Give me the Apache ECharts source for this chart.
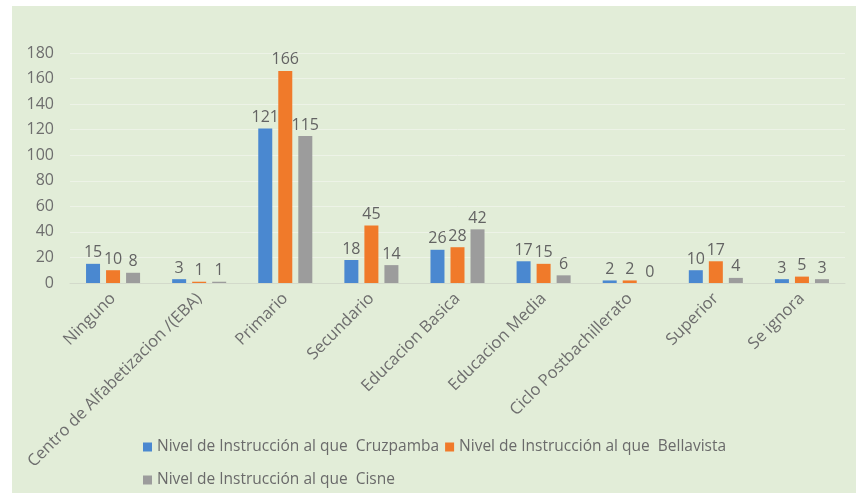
<!DOCTYPE html>
<html lang="es">
  <head>
    <meta charset="UTF-8" />
    <title>Nivel de Instrucción</title>
    <script src="https://cdn.jsdelivr.net/npm/echarts@6/dist/echarts.min.js"></script>
    <style>
      body { margin: 0; background: #ffffff; }
      #frame { position: relative; width: 856px; height: 493px; }
      #chart { position: absolute; left: 12px; top: 6px; width: 844px; height: 487px; }
    </style>
  </head>
  <body>
    <div id="frame"><div id="chart"></div></div>

    <script type="text/javascript">
      // categories and values
      const categories = [
        "Ninguno",
        "Centro de Alfabetizacion /(EBA)",
        "Primario",
        "Secundario",
        "Educacion Basica",
        "Educacion Media",
        "Ciclo Postbachillerato",
        "Superior",
        "Se ignora",
      ];
      const cruzpamba = [15, 3, 121, 18, 26, 17, 2, 10, 3];
      const bellavista = [10, 1, 166, 45, 28, 15, 2, 17, 5];
      const cisne = [8, 1, 115, 14, 42, 6, 0, 4, 3];
      const seriesNames = [
        "Nivel de Instrucción al que  Cruzpamba",
        "Nivel de Instrucción al que  Bellavista",
        "Nivel de Instrucción al que  Cisne",
      ];
      const yTicks = { min: 0, max: 180, interval: 20 };

      const chart = echarts.init(document.getElementById("chart"));
      const font = "Open Sans";

      function barSeries(name, data, color) {
        return {
          name: name,
          type: "bar",
          data: data,
          barWidth: 14,
          barGap: "43%",
          itemStyle: { color: color },
          label: {
            show: true,
            position: "top",
            distance: 3,
            fontSize: 16,
            fontFamily: font,
            color: "#636363",
          },
        };
      }

      const legendText = { fontSize: 15.5, fontFamily: font, color: "#6a6a6a" };

      chart.setOption({
        backgroundColor: "#e2edd8",
        animation: false,
        grid: { left: 58, right: 11, top: 47, bottom: 210 },
        legend: [
          {
            data: [seriesNames[0], seriesNames[1]],
            left: 126,
            top: 428,
            itemWidth: 9,
            itemHeight: 9,
            itemGap: 6,
            icon: "rect",
            textStyle: legendText,
          },
          {
            data: [seriesNames[2]],
            left: 126,
            top: 461,
            itemWidth: 9,
            itemHeight: 9,
            icon: "rect",
            textStyle: legendText,
          },
        ],
        xAxis: {
          type: "category",
          data: categories,
          axisTick: { show: false },
          axisLine: { lineStyle: { color: "#d3dacb" } },
          axisLabel: {
            interval: 0,
            rotate: 45,
            margin: 13,
            fontSize: 16.5,
            fontFamily: font,
            color: "#6e6e6e",
          },
        },
        yAxis: {
          type: "value",
          min: yTicks.min,
          max: yTicks.max,
          interval: yTicks.interval,
          axisLabel: { fontSize: 16, fontFamily: font, color: "#6e6e6e", margin: 16 },
          splitLine: { lineStyle: { color: "#edf3e7" } },
        },
        series: [
          barSeries(seriesNames[0], cruzpamba, "#4a88d0"),
          barSeries(seriesNames[1], bellavista, "#f07a2a"),
          barSeries(seriesNames[2], cisne, "#9c9c9c"),
        ],
      });
    </script>
  </body>
</html>
